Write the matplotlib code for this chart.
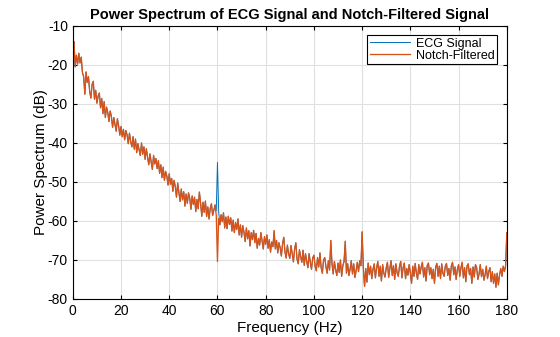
import matplotlib
matplotlib.use('Agg')
import matplotlib.pyplot as plt
import numpy as np

plt.rcParams['font.family'] = ['Liberation Sans', 'DejaVu Sans']
plt.rcParams['axes.unicode_minus'] = False

# frequency grid (Hz), 0.5 Hz steps
freq = np.arange(0, 180.5, 0.5)

# power spectrum of the raw ECG (dB)
ecg_db = [
    -24.5, -14.0, -20.5, -17.5, -19.8, -17.0, -19.5, -18.0, -22.0, -23.0,
    -27.5, -21.8, -24.5, -23.0, -26.8, -28.5, -25.0, -24.2, -28.8, -26.5,
    -29.8, -28.0, -27.2, -31.0, -28.6, -32.5, -29.4, -33.5, -30.8, -32.2,
    -34.5, -31.8, -33.2, -36.0, -33.5, -35.2, -37.0, -33.8, -35.6, -38.0,
    -35.8, -38.4, -36.5, -39.2, -36.8, -37.9, -40.2, -37.5, -39.6, -41.0,
    -38.4, -41.6, -39.0, -42.5, -40.2, -41.8, -43.2, -40.0, -42.9, -41.0,
    -44.2, -41.5, -43.5, -45.6, -42.8, -44.9, -46.8, -43.2, -45.4, -44.0,
    -46.6, -44.5, -47.8, -45.6, -48.9, -46.2, -49.6, -47.3, -48.5, -50.8,
    -47.9, -50.6, -49.1, -52.4, -49.6, -51.2, -53.9, -50.3, -52.6, -55.0,
    -51.8, -54.6, -52.5, -56.2, -53.1, -55.5, -52.8, -54.2, -57.0, -53.6,
    -55.8, -53.9, -57.6, -54.5, -56.9, -52.6, -55.4, -58.8, -55.2, -57.8,
    -54.9, -58.9, -56.4, -59.5, -56.8, -55.6, -58.6, -57.2, -55.9, -57.4,
    -45.0,
    -57.6, -61.0, -58.4, -60.2, -57.9, -61.8, -59.0, -62.0, -58.8,
    -60.9, -59.2, -62.6, -59.8, -63.0, -60.4, -62.2, -59.5, -63.6, -61.0,
    -64.2, -61.2, -62.9, -65.3, -61.8, -64.6, -62.5, -66.4, -63.0, -64.8,
    -62.4, -65.6, -63.2, -67.0, -64.5, -66.2, -63.0, -65.2, -67.2, -64.0,
    -66.0, -63.6, -67.0, -64.8, -68.0, -65.4, -66.6, -62.5, -67.2, -65.0,
    -68.2, -65.6, -66.9, -69.0, -65.8, -64.2, -68.0, -69.5, -66.2, -68.4,
    -69.6, -66.3, -68.5, -70.5, -67.2, -65.6, -69.8, -71.0, -67.4, -69.2,
    -70.6, -67.5, -71.4, -68.4, -70.3, -72.0, -68.4, -70.6, -72.4, -69.5,
    -68.8, -71.6, -72.8, -69.4, -71.8, -68.2, -72.0, -73.4, -70.0, -69.4,
    -71.8, -73.4, -70.2, -72.6, -65.0, -71.0, -73.6, -70.4, -72.5, -74.0,
    -70.8, -73.2, -70.0, -74.2, -71.5, -70.4, -65.2, -73.4, -71.0, -74.0,
    -72.4, -70.2, -73.6, -71.0, -74.5, -72.8, -70.6, -73.0, -70.2, -71.5,
    -62.8,
    -72.0, -76.8, -72.2, -75.7, -70.8, -73.8, -71.6, -74.8, -72.4,
    -71.0, -74.6, -72.0, -70.4, -74.2, -71.6, -75.4, -71.2, -73.4, -74.4,
    -72.0, -70.6, -74.5, -72.2, -70.2, -74.0, -71.4, -75.0, -71.0, -73.3,
    -74.2, -71.6, -70.4, -74.6, -72.0, -70.8, -74.8, -72.2, -73.9, -71.2,
    -73.4, -76.0, -71.6, -74.2, -70.9, -73.4, -75.0, -71.2, -73.6, -71.8,
    -70.6, -74.4, -72.0, -75.4, -71.4, -70.8, -73.8, -72.0, -74.8, -72.4,
    -76.0, -71.8, -70.9, -74.2, -71.6, -74.8, -71.0, -73.4, -74.2, -71.6,
    -70.9, -74.0, -72.2, -75.2, -71.5, -70.6, -73.8, -71.8, -75.0, -72.4,
    -71.2, -74.2, -72.0, -70.6, -74.6, -72.0, -75.6, -71.6, -71.0, -73.8,
    -72.2, -76.0, -71.8, -74.4, -71.2, -72.0, -75.0, -73.6, -71.2, -74.3,
    -72.4, -75.2, -73.8, -71.6, -74.8, -73.0, -72.0, -75.6, -73.0, -76.0,
    -73.6, -77.0, -73.4, -76.4, -73.8, -72.2, -74.2, -71.6, -73.0, -71.5,
    -63.0,
]

# notch-filtered spectrum is the same except around 60 Hz
notch_freqs = [59.5, 60.0, 60.5]
notch_db = [-58.6, -70.4, -59.4]

ecg_db = np.array(ecg_db)
filt_db = ecg_db.copy()
for f, v in zip(notch_freqs, notch_db):
    filt_db[np.argmin(np.abs(freq - f))] = v

fig = plt.figure(figsize=(5.6, 3.37), dpi=100)
ax = fig.add_axes([0.13, 0.113, 0.775, 0.81])

ax.plot(freq, ecg_db, color='#0072BD', lw=0.7, label='ECG Signal')
ax.plot(freq, filt_db, color='#D95319', lw=0.95, label='Notch-Filtered')

ax.set_xlim(0, 180)
ax.set_ylim(-80, -10)
ax.set_xticks(np.arange(0, 181, 20))
ax.set_yticks(np.arange(-80, -9, 10))
ax.grid(True, color='#e0e0e0', lw=0.8)
ax.set_axisbelow(True)
ax.tick_params(direction='in', top=True, right=True, length=3, labelsize=10, width=0.8)
for s in ax.spines.values():
    s.set_linewidth(0.8)

ax.set_xlabel('Frequency (Hz)', fontsize=11, labelpad=2)
ax.set_ylabel('Power Spectrum (dB)', fontsize=11, labelpad=0)
ax.set_title('Power Spectrum of ECG Signal and Notch-Filtered Signal',
             fontsize=10.5, fontweight='bold', pad=5)

leg = ax.legend(loc='upper right', fontsize=9, fancybox=False, framealpha=1,
                edgecolor='black', borderpad=0.2, handlelength=3.2,
                labelspacing=0.0, borderaxespad=0.75, handletextpad=0.5)
leg.get_frame().set_linewidth(0.8)

fig.savefig('out.png', dpi=100)
